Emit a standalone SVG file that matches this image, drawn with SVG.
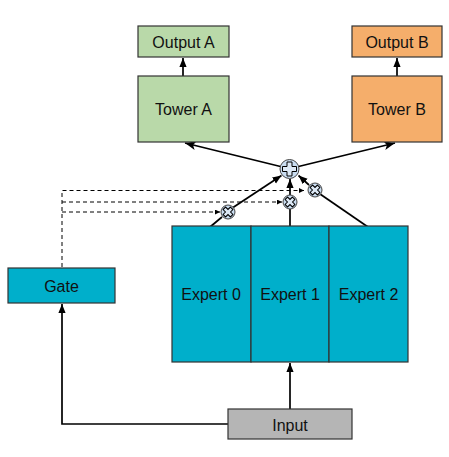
<svg xmlns="http://www.w3.org/2000/svg" width="449" height="457" viewBox="0 0 449 457">
<defs>
<style>
.box{stroke:#333;stroke-width:1.2}
.t{font-family:"Liberation Sans",Arial,sans-serif;font-size:16px;fill:#111;text-anchor:middle;dominant-baseline:central}
.c{fill:none;stroke:#000;stroke-width:1.7}
.d{fill:none;stroke:#000;stroke-width:1;stroke-dasharray:4,3}
.op{fill:#c9dcf0;stroke:#444;stroke-width:1}
.sym{fill:#dde9f6;stroke:#000;stroke-width:1}
</style>
<marker id="a" viewBox="0 0 10 10" refX="10" refY="5" markerWidth="9" markerHeight="9" orient="auto" markerUnits="userSpaceOnUse"><path d="M0,1 L10,5 L0,9 z" fill="#000"/></marker>
<marker id="as" viewBox="0 0 10 10" refX="10" refY="5" markerWidth="5" markerHeight="5" orient="auto" markerUnits="userSpaceOnUse"><path d="M0,0 L10,5 L0,10 z" fill="#000"/></marker>
<marker id="ab" viewBox="0 0 10 10" refX="10" refY="5" markerWidth="11" markerHeight="11" orient="auto" markerUnits="userSpaceOnUse"><path d="M0,1 L10,5 L0,9 L2.5,5 z" fill="#000"/></marker>
</defs>
<g id="connectors">
<line class="c" x1="183" y1="76" x2="183" y2="58" marker-end="url(#a)"/>
<line class="c" x1="397" y1="76" x2="397" y2="58" marker-end="url(#a)"/>
<line class="c" x1="280.5" y1="166.5" x2="185" y2="143" marker-end="url(#ab)"/>
<line class="c" x1="298.5" y1="166.5" x2="395" y2="143" marker-end="url(#ab)"/>
<line class="c" x1="210" y1="227" x2="222" y2="217"/>
<line class="c" x1="233" y1="207.5" x2="281.5" y2="175.5" marker-end="url(#a)"/>
<line class="c" x1="290" y1="227" x2="290" y2="209"/>
<line class="c" x1="290" y1="195" x2="290" y2="179" marker-end="url(#a)"/>
<line class="c" x1="368" y1="227" x2="320" y2="194"/>
<line class="c" x1="309" y1="185" x2="298.5" y2="175.5" marker-end="url(#a)"/>
<polyline class="d" points="62,267 62,190.5 304,190.5" marker-end="url(#as)"/>
<polyline class="d" points="62,202 282,202" marker-end="url(#as)"/>
<polyline class="d" points="62,212 220,212" marker-end="url(#as)"/>
<line class="c" x1="290" y1="409" x2="290" y2="363" marker-end="url(#a)"/>
<polyline class="c" points="228,424 62,424 62,304" marker-end="url(#a)"/>
</g>
<g id="outputA"><rect class="box" x="138" y="26" width="91" height="31" fill="#b9d9a9"/><text class="t" x="183.5" y="42">Output A</text></g>
<g id="outputB"><rect class="box" x="352" y="26" width="90" height="31" fill="#f5ae6b"/><text class="t" x="397" y="42">Output B</text></g>
<g id="towerA"><rect class="box" x="138" y="76" width="91" height="66" fill="#b9d9a9"/><text class="t" x="183.5" y="109">Tower A</text></g>
<g id="towerB"><rect class="box" x="352" y="76" width="90" height="66" fill="#f5ae6b"/><text class="t" x="397" y="109">Tower B</text></g>
<g id="sum"><circle class="op" cx="289.5" cy="169" r="9.5"/><path class="sym" transform="translate(289.5,169)" d="M-2.5,-7 h5 v4.5 h4.5 v5 h-4.5 v4.5 h-5 v-4.5 h-4.5 v-5 h4.5 z"/></g>
<g id="mul0"><circle class="op" cx="228" cy="212" r="7"/><path class="sym" transform="translate(228,212) rotate(45)" d="M-1.8,-5.2 h3.6 v3.4 h3.4 v3.6 h-3.4 v3.4 h-3.6 v-3.4 h-3.4 v-3.6 h3.4 z"/></g>
<g id="mul1"><circle class="op" cx="290" cy="202" r="7"/><path class="sym" transform="translate(290,202) rotate(45)" d="M-1.8,-5.2 h3.6 v3.4 h3.4 v3.6 h-3.4 v3.4 h-3.6 v-3.4 h-3.4 v-3.6 h3.4 z"/></g>
<g id="mul2"><circle class="op" cx="315" cy="190" r="7"/><path class="sym" transform="translate(315,190) rotate(45)" d="M-1.8,-5.2 h3.6 v3.4 h3.4 v3.6 h-3.4 v3.4 h-3.6 v-3.4 h-3.4 v-3.6 h3.4 z"/></g>
<g id="expert0"><rect class="box" x="172" y="226" width="79" height="136" fill="#00afcb"/><text class="t" x="211" y="294">Expert 0</text></g>
<g id="expert1"><rect class="box" x="251" y="226" width="78" height="136" fill="#00afcb"/><text class="t" x="290" y="294">Expert 1</text></g>
<g id="expert2"><rect class="box" x="329" y="226" width="79" height="136" fill="#00afcb"/><text class="t" x="368.5" y="294">Expert 2</text></g>
<g id="gate"><rect class="box" x="8" y="268" width="107" height="35" fill="#00afcb"/><text class="t" x="61.5" y="286">Gate</text></g>
<g id="input"><rect class="box" x="228" y="409" width="124" height="30" fill="#b5b5b5"/><text class="t" x="290" y="425">Input</text></g>
</svg>
